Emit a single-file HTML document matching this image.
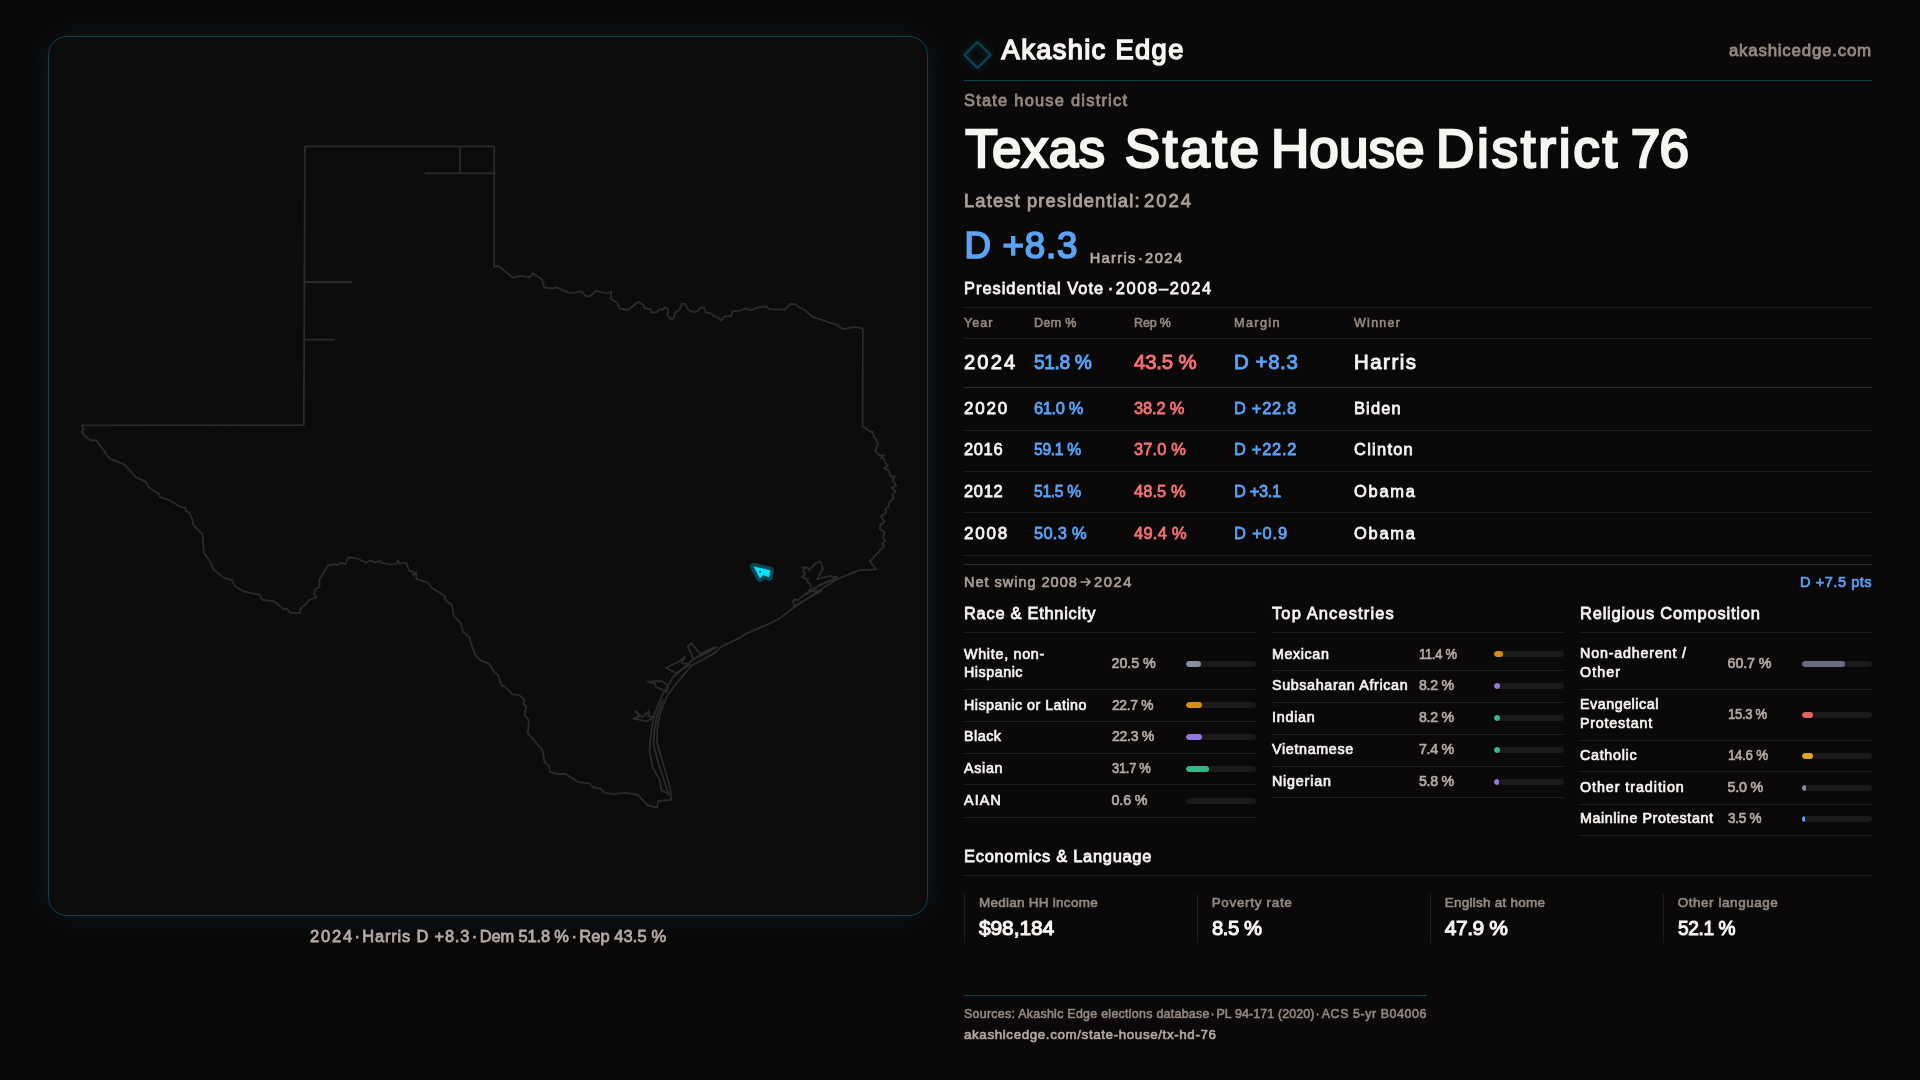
<!DOCTYPE html>
<html lang="en"><head><meta charset="utf-8"><title>Texas State House District 76</title>
<style>
html,body{margin:0;padding:0;}
body{width:1920px;height:1080px;overflow:hidden;background:#0a0809;position:relative;font-family:"Liberation Sans",sans-serif;}
.t{position:absolute;white-space:pre;line-height:1;transform-origin:0 50%;-webkit-font-smoothing:antialiased;}
.h{position:absolute;height:1px;display:block;}
.v{position:absolute;width:1px;display:block;background:#1f1d1e;}
.bar{position:absolute;display:block;width:70px;height:6px;border-radius:3px;background:#1b191a;overflow:hidden;}
.bar b{display:block;height:6px;border-radius:3px;}
#panel{position:absolute;left:48px;top:36px;width:878px;height:878px;border:1px solid #0d4251;border-radius:19px;background:#0d0b0c;box-shadow:0 0 32px rgba(20,110,135,0.17);}
#tx{position:absolute;left:0;top:0;width:1920px;height:1080px;will-change:transform;}
#map{position:absolute;left:0;top:0;width:1920px;height:1080px;}
#logo{position:absolute;left:957px;top:35px;width:40px;height:40px;}
#arr{position:absolute;left:1079.6px;top:576.7px;width:12px;height:10px;}
</style></head><body>
<div id="panel"></div>
<svg id="map" viewBox="0 0 1920 1080"><g fill="none" stroke="#2c2a2a" stroke-width="1.8" stroke-linejoin="round" stroke-linecap="round"><path d="M305.0 146.3 L494.2 146.3 L494.2 267.0 L498.5 266.0 L513.3 277.9 L519.6 275.8 L530.0 277.1 L532.9 272.9 L536.3 275.8 L542.1 279.2 L544.2 287.5 L551.7 288.3 L556.7 287.5 L570.4 293.3 L580.8 291.3 L587.1 296.7 L591.3 295.4 L595.4 290.8 L607.9 293.3 L611.3 291.7 L610.8 298.8 L617.5 302.9 L619.6 308.3 L627.9 310.0 L638.3 301.7 L643.3 305.0 L644.6 308.3 L650.4 309.2 L651.7 312.5 L657.1 312.1 L659.2 309.2 L662.1 310.0 L665.4 307.1 L668.3 310.4 L667.5 315.4 L670.4 318.8 L673.8 318.3 L675.4 312.1 L679.6 310.0 L681.7 303.8 L685.0 303.8 L688.3 310.0 L693.3 312.1 L697.5 311.3 L700.8 307.1 L704.6 308.3 L705.8 312.5 L710.8 313.3 L714.2 316.3 L717.1 316.7 L721.3 320.8 L724.6 316.3 L730.8 316.3 L732.9 311.3 L741.3 310.4 L745.4 308.3 L751.7 310.4 L756.7 307.9 L766.3 306.3 L769.2 309.2 L785.0 309.6 L790.4 303.8 L795.4 304.2 L799.6 307.9 L803.8 309.2 L812.1 316.7 L824.6 320.8 L837.1 325.0 L843.3 329.2 L853.8 327.1 L860.0 327.9 L862.9 329.2 L862.6 426.0 L871.3 432.2 L872.6 431.5 L874.0 437.1 L876.8 439.9 L876.4 441.3 L878.2 443.3 L875.4 451.0 L877.5 453.8 L880.3 455.8 L883.8 455.1 L880.6 458.6 L883.3 457.9 L885.8 463.5 L887.9 464.9 L884.4 468.3 L888.6 470.4 L891.4 477.4 L894.9 476.0 L892.8 480.8 L896.3 485.7 L891.4 487.8 L895.6 491.3 L892.1 494.7 L893.9 498.2 L889.3 502.4 L888.6 506.5 L884.7 509.7 L886.5 511.1 L885.1 513.5 L881.0 516.3 L884.4 521.8 L880.3 525.3 L879.6 528.8 L884.4 531.9 L883.1 537.8 L885.4 540.6 L881.7 544.0 L884.4 545.8 L869.9 561.4 L876.1 569.4 L859.3 570.2 L836.3 579.5 L818.6 591.1 L793.8 607.4 L779.6 618.5 L767.2 624.7 L746.7 633.3 L739.7 637.9 L721.2 646.7 L715.0 652.9 L692.1 665.2 L679.8 679.3 L667.5 695.1 L659.6 714.5 L657.3 728.5 L657.0 742.6 L663.1 763.7 L668.4 781.3 L671.0 793.6 L671.0 799.8 L658.3 800.8 L657.1 807.5 L647.9 805.4 L637.5 794.6 L625.8 792.9 L613.3 793.8 L605.0 792.9 L599.6 788.3 L593.3 787.5 L589.2 783.3 L577.9 782.1 L565.4 773.8 L557.1 774.2 L550.0 771.7 L548.8 765.4 L544.6 762.5 L542.5 750.0 L527.9 733.3 L528.8 720.0 L524.6 715.4 L526.3 706.3 L523.3 704.2 L524.6 700.0 L519.6 695.4 L512.1 694.2 L505.0 686.7 L501.7 685.4 L497.5 674.2 L494.6 672.9 L489.2 663.8 L480.8 660.4 L475.4 655.4 L470.4 641.7 L469.6 637.5 L462.9 631.7 L460.8 622.9 L453.8 615.8 L451.7 605.0 L445.4 600.0 L444.6 595.8 L432.1 588.3 L427.9 582.5 L416.3 579.2 L416.3 572.1 L413.3 575.8 L412.9 571.3 L409.2 570.8 L406.7 563.8 L402.9 562.5 L399.6 563.8 L397.9 560.4 L396.7 563.3 L392.1 564.6 L381.7 562.9 L380.0 560.8 L373.8 562.5 L371.7 560.4 L365.4 562.5 L357.1 558.3 L348.3 557.5 L345.4 564.2 L340.0 562.9 L336.3 565.4 L335.0 563.8 L327.9 565.4 L319.2 580.0 L319.6 586.7 L315.0 589.6 L314.2 594.6 L316.3 597.5 L308.8 600.0 L305.8 604.2 L301.7 607.1 L299.6 612.9 L290.4 612.9 L286.3 608.3 L284.2 609.6 L273.8 601.3 L262.9 600.0 L259.2 594.6 L244.2 591.7 L235.0 586.3 L232.1 580.4 L222.5 577.1 L212.9 568.8 L210.8 562.5 L203.8 552.9 L202.5 534.2 L193.3 525.0 L192.5 519.6 L189.2 512.5 L186.3 511.3 L185.0 507.5 L180.8 507.1 L169.2 500.0 L160.0 497.1 L158.8 493.8 L148.8 487.5 L146.3 482.1 L135.8 477.1 L124.6 464.6 L109.2 458.3 L97.5 441.7 L94.2 440.0 L91.3 440.4 L84.2 435.4 L81.7 431.3 L83.8 429.6 L81.7 425.4 L303.8 425.0 L305.0 146.3"/><path d="M460.0 146.3 L460.0 173.3"/><path d="M425.4 173.3 L494.2 173.3"/><path d="M305.0 282.0 L351.7 282.0"/><path d="M304.5 339.6 L333.8 339.6"/><path d="M715.9 647.6 L704.5 652.0 L690.4 661.7 L672.8 677.5 L662.2 695.1 L654.3 714.5 L651.7 728.5 L649.9 744.4 L649.6 751.4 L652.6 767.3 L659.6 779.6 L661.4 790.1 L669.3 794.5"/><path d="M663.0 700.0 L657.0 715.0 L654.5 730.0 L653.5 745.0 L659.0 765.0 L665.0 783.0 L668.5 795.0"/><path d="M687.7 646.7 L691.3 643.2 L695.7 648.5 L700.1 653.8 L711.0 648.5 L716.5 647.0 L706.0 653.5 L693.0 659.0 L691.3 652.9 L687.7 646.7"/><path d="M665.8 667.8 L678.9 661.7 L685.1 656.4 L681.6 662.6 L690.4 664.3 L676.3 673.1 L672.8 671.4 L665.8 667.8"/><path d="M647.3 681.6 L662.2 681.0 L668.4 686.3 L666.6 691.6 L656.1 687.2 L655.2 683.7 L647.3 681.6"/><path d="M633.2 718.9 L639.4 716.2 L635.5 710.9 L642.0 717.1 L649.0 710.9 L648.2 716.2 L654.3 717.1 L646.4 721.5 L639.4 719.7 L633.2 718.9"/><path d="M794.7 606.1 L793.1 601.7 L795.1 599.0 L797.3 600.4 L807.9 591.9 L811.5 588.4 L810.2 584.0 L807.1 581.8 L807.9 579.5 L801.7 576.9 L805.3 574.2 L803.1 571.6 L804.4 568.9 L802.2 567.1 L807.9 568.0 L809.3 570.2 L815.0 563.6 L820.3 561.4 L823.0 568.5 L817.2 579.1 L831.0 575.6 L832.7 577.3 L837.2 576.9"/><path d="M836.3 578.2 L819.5 584.9 L811.5 591.1 L821.2 590.6 L800.0 603.0 L794.7 606.1"/><path d="M806.0 594.5 L816.0 587.5 L826.0 582.5 L834.0 579.5"/></g><g stroke-linejoin="round"><path d="M753.9 566.7 L770.1 570.5 L769 577 L763.3 574.8 L760 578.3 Z" fill="#0a4351" stroke="#0a4351" stroke-width="7.6"/><path d="M753.9 566.7 L770.1 570.5 L769 577 L763.3 574.8 L760 578.3 Z" fill="#04e2fd" stroke="#04e2fd" stroke-width="0.5"/><circle cx="760.1" cy="571.7" r="0.95" fill="#0a3a46"/></g></svg>
<svg id="logo" viewBox="0 0 40 40"><defs><filter id="lg" x="-60%" y="-60%" width="220%" height="220%"><feGaussianBlur stdDeviation="3.2"/></filter></defs>
<path d="M20.5 7 L33.5 20 L20.5 33 L7.5 20 Z" fill="none" stroke="#127089" stroke-width="3.2" opacity="0.33" filter="url(#lg)"/>
<path d="M20.5 7 L33.5 20 L20.5 33 L7.5 20 Z" fill="none" stroke="#0e4656" stroke-width="2" stroke-linejoin="round"/></svg>
<svg id="arr" viewBox="0 0 12 10"><path d="M1 5 H10.2 M6.6 1.6 L10.2 5 L6.6 8.4" fill="none" stroke="#aa9e97" stroke-width="1.55" stroke-linecap="round" stroke-linejoin="round"/></svg>
<div id="tx">
<span class="t" id="t0" style="left:1001.62px;top:35.91px;font-size:27.26px;color:#f7f5f2;-webkit-text-stroke:1.53px #f7f5f2;letter-spacing:1.368px;">Akashic Edge</span>
<span class="t" id="t1" style="left:1728.91px;top:43.48px;font-size:16.92px;color:#958982;-webkit-text-stroke:0.8px #958982;letter-spacing:0.766px;">akashicedge.com</span>
<span class="t" id="t2" style="left:964.00px;top:92.21px;font-size:16.45px;color:#958982;-webkit-text-stroke:0.77px #958982;letter-spacing:1.221px;">State house district</span>
<span class="t" id="t3" style="left:965.20px;top:121.88px;font-size:53.11px;color:#f7f5f2;-webkit-text-stroke:2.34px #f7f5f2;letter-spacing:0.289px;">Texas</span>
<span class="t" id="t4" style="left:1124.81px;top:121.88px;font-size:53.11px;color:#f7f5f2;-webkit-text-stroke:2.34px #f7f5f2;letter-spacing:2.580px;">State</span>
<span class="t" id="t5" style="left:1270.94px;top:121.88px;font-size:53.11px;color:#f7f5f2;-webkit-text-stroke:2.34px #f7f5f2;letter-spacing:0.027px;">House</span>
<span class="t" id="t6" style="left:1435.94px;top:121.88px;font-size:53.11px;color:#f7f5f2;-webkit-text-stroke:2.34px #f7f5f2;letter-spacing:2.719px;">District</span>
<span class="t" id="t7" style="left:1630.82px;top:121.88px;font-size:53.11px;color:#f7f5f2;-webkit-text-stroke:2.34px #f7f5f2;letter-spacing:-0.752px;">76</span>
<span class="t" id="t8" style="left:964.00px;top:191.50px;font-size:18.33px;color:#aa9e97;-webkit-text-stroke:0.86px #aa9e97;letter-spacing:1.138px;">Latest presidential:</span>
<span class="t" id="t9" style="left:1144.20px;top:191.50px;font-size:18.33px;color:#aa9e97;-webkit-text-stroke:0.86px #aa9e97;letter-spacing:1.950px;transform:scaleX(1.0110);">2024</span>
<span class="t" id="t10" style="left:964.43px;top:227.86px;font-size:36.66px;color:#5aa3f5;-webkit-text-stroke:1.72px #5aa3f5;letter-spacing:0.764px;">D +8.3</span>
<span class="t" id="t11" style="left:1089.77px;top:251.16px;font-size:14.57px;color:#b5a9a3;-webkit-text-stroke:0.68px #b5a9a3;letter-spacing:1.328px;">Harris</span>
<span class="t" id="t12" style="left:1137.97px;top:251.16px;font-size:14.57px;color:#b5a9a3;-webkit-text-stroke:0.68px #b5a9a3;">·</span>
<span class="t" id="t13" style="left:1144.80px;top:251.16px;font-size:14.57px;color:#b5a9a3;-webkit-text-stroke:0.68px #b5a9a3;letter-spacing:1.550px;transform:scaleX(1.0032);">2024</span>
<span class="t" id="t14" style="left:964.00px;top:279.67px;font-size:16.45px;color:#f7f5f2;-webkit-text-stroke:0.77px #f7f5f2;letter-spacing:0.982px;">Presidential Vote</span>
<span class="t" id="t15" style="left:1107.65px;top:279.67px;font-size:16.45px;color:#f7f5f2;-webkit-text-stroke:0.77px #f7f5f2;">·</span>
<span class="t" id="t16" style="left:1115.77px;top:279.67px;font-size:16.45px;color:#f7f5f2;-webkit-text-stroke:0.77px #f7f5f2;letter-spacing:1.638px;">2008–2024</span>
<span class="t" id="t17" style="left:964.00px;top:316.84px;font-size:12.5px;color:#958982;-webkit-text-stroke:0.59px #958982;letter-spacing:1.026px;">Year</span>
<span class="t" id="t18" style="left:1034.00px;top:316.84px;font-size:12.5px;color:#958982;-webkit-text-stroke:0.59px #958982;letter-spacing:0.370px;">Dem %</span>
<span class="t" id="t19" style="left:1134.00px;top:316.84px;font-size:12.5px;color:#958982;-webkit-text-stroke:0.59px #958982;letter-spacing:-0.140px;">Rep %</span>
<span class="t" id="t20" style="left:1234.00px;top:316.84px;font-size:12.5px;color:#958982;-webkit-text-stroke:0.59px #958982;letter-spacing:1.330px;transform:scaleX(1.0155);">Margin</span>
<span class="t" id="t21" style="left:1354.00px;top:316.84px;font-size:12.5px;color:#958982;-webkit-text-stroke:0.59px #958982;letter-spacing:1.330px;transform:scaleX(0.9943);">Winner</span>
<span class="t" id="t22" style="left:964.00px;top:352.44px;font-size:20.4px;color:#f7f5f2;-webkit-text-stroke:0.96px #f7f5f2;letter-spacing:2.170px;transform:scaleX(0.9861);">2024</span>
<span class="t" id="t23" style="left:1034.00px;top:352.44px;font-size:20.4px;color:#5aa3f5;-webkit-text-stroke:0.96px #5aa3f5;letter-spacing:-0.434px;transform:scaleX(0.9416);">51.8 %</span>
<span class="t" id="t24" style="left:1134.00px;top:352.44px;font-size:20.4px;color:#f47275;-webkit-text-stroke:0.96px #f47275;letter-spacing:-0.190px;">43.5 %</span>
<span class="t" id="t25" style="left:1234.00px;top:352.44px;font-size:20.4px;color:#5aa3f5;-webkit-text-stroke:0.96px #5aa3f5;letter-spacing:0.617px;">D +8.3</span>
<span class="t" id="t26" style="left:1354.00px;top:352.44px;font-size:20.4px;color:#f7f5f2;-webkit-text-stroke:0.96px #f7f5f2;letter-spacing:1.524px;">Harris</span>
<span class="t" id="t27" style="left:964.00px;top:399.73px;font-size:16.45px;color:#f7f5f2;-webkit-text-stroke:0.77px #f7f5f2;letter-spacing:1.750px;transform:scaleX(1.0343);">2020</span>
<span class="t" id="t28" style="left:1034.00px;top:399.73px;font-size:16.45px;color:#5aa3f5;-webkit-text-stroke:0.77px #5aa3f5;letter-spacing:-0.348px;">61.0 %</span>
<span class="t" id="t29" style="left:1134.00px;top:399.73px;font-size:16.45px;color:#f47275;-webkit-text-stroke:0.77px #f47275;letter-spacing:-0.147px;">38.2 %</span>
<span class="t" id="t30" style="left:1234.00px;top:399.73px;font-size:16.45px;color:#5aa3f5;-webkit-text-stroke:0.77px #5aa3f5;letter-spacing:0.706px;">D +22.8</span>
<span class="t" id="t31" style="left:1354.00px;top:399.73px;font-size:16.45px;color:#f7f5f2;-webkit-text-stroke:0.77px #f7f5f2;letter-spacing:1.132px;">Biden</span>
<span class="t" id="t32" style="left:964.00px;top:441.27px;font-size:16.45px;color:#f7f5f2;-webkit-text-stroke:0.77px #f7f5f2;letter-spacing:0.660px;">2016</span>
<span class="t" id="t33" style="left:1034.00px;top:441.27px;font-size:16.45px;color:#5aa3f5;-webkit-text-stroke:0.77px #5aa3f5;letter-spacing:-0.350px;transform:scaleX(0.9552);">59.1 %</span>
<span class="t" id="t34" style="left:1134.00px;top:441.27px;font-size:16.45px;color:#f47275;-webkit-text-stroke:0.77px #f47275;letter-spacing:0.161px;">37.0 %</span>
<span class="t" id="t35" style="left:1234.00px;top:441.27px;font-size:16.45px;color:#5aa3f5;-webkit-text-stroke:0.77px #5aa3f5;letter-spacing:0.715px;">D +22.2</span>
<span class="t" id="t36" style="left:1354.00px;top:441.27px;font-size:16.45px;color:#f7f5f2;-webkit-text-stroke:0.77px #f7f5f2;letter-spacing:1.265px;">Clinton</span>
<span class="t" id="t37" style="left:964.00px;top:483.37px;font-size:16.45px;color:#f7f5f2;-webkit-text-stroke:0.77px #f7f5f2;letter-spacing:0.674px;">2012</span>
<span class="t" id="t38" style="left:1034.00px;top:483.37px;font-size:16.45px;color:#5aa3f5;-webkit-text-stroke:0.77px #5aa3f5;letter-spacing:-0.350px;transform:scaleX(0.9552);">51.5 %</span>
<span class="t" id="t39" style="left:1134.00px;top:483.37px;font-size:16.45px;color:#f47275;-webkit-text-stroke:0.77px #f47275;letter-spacing:0.065px;">48.5 %</span>
<span class="t" id="t40" style="left:1234.00px;top:483.37px;font-size:16.45px;color:#5aa3f5;-webkit-text-stroke:0.77px #5aa3f5;letter-spacing:-0.355px;">D +3.1</span>
<span class="t" id="t41" style="left:1354.00px;top:483.37px;font-size:16.45px;color:#f7f5f2;-webkit-text-stroke:0.77px #f7f5f2;letter-spacing:1.750px;">Obama</span>
<span class="t" id="t42" style="left:964.00px;top:525.37px;font-size:16.45px;color:#f7f5f2;-webkit-text-stroke:0.77px #f7f5f2;letter-spacing:1.750px;transform:scaleX(1.0358);">2008</span>
<span class="t" id="t43" style="left:1034.00px;top:525.37px;font-size:16.45px;color:#5aa3f5;-webkit-text-stroke:0.77px #5aa3f5;letter-spacing:0.265px;">50.3 %</span>
<span class="t" id="t44" style="left:1134.00px;top:525.37px;font-size:16.45px;color:#f47275;-webkit-text-stroke:0.77px #f47275;letter-spacing:0.265px;">49.4 %</span>
<span class="t" id="t45" style="left:1234.00px;top:525.37px;font-size:16.45px;color:#5aa3f5;-webkit-text-stroke:0.77px #5aa3f5;letter-spacing:0.849px;">D +0.9</span>
<span class="t" id="t46" style="left:1354.00px;top:525.37px;font-size:16.45px;color:#f7f5f2;-webkit-text-stroke:0.77px #f7f5f2;letter-spacing:1.750px;">Obama</span>
<span class="t" id="t47" style="left:964.00px;top:575.16px;font-size:14.57px;color:#aa9e97;-webkit-text-stroke:0.68px #aa9e97;letter-spacing:0.957px;">Net swing 2008</span>
<span class="t" id="t48" style="left:1094.30px;top:575.16px;font-size:14.57px;color:#aa9e97;-webkit-text-stroke:0.68px #aa9e97;letter-spacing:1.550px;transform:scaleX(1.0078);">2024</span>
<span class="t" id="t49" style="left:1800.00px;top:575.16px;font-size:14.57px;color:#5aa3f5;-webkit-text-stroke:0.68px #5aa3f5;letter-spacing:0.540px;">D +7.5 pts</span>
<span class="t" id="t50" style="left:964.00px;top:605.08px;font-size:16.45px;color:#f7f5f2;-webkit-text-stroke:0.77px #f7f5f2;letter-spacing:0.717px;">Race &amp; Ethnicity</span>
<span class="t" id="t51" style="left:1272.00px;top:605.08px;font-size:16.45px;color:#f7f5f2;-webkit-text-stroke:0.77px #f7f5f2;letter-spacing:1.136px;">Top Ancestries</span>
<span class="t" id="t52" style="left:1580.00px;top:605.08px;font-size:16.45px;color:#f7f5f2;-webkit-text-stroke:0.77px #f7f5f2;letter-spacing:0.816px;">Religious Composition</span>
<span class="t" id="t53" style="left:964.00px;top:646.90px;font-size:14.29px;color:#f7f5f2;-webkit-text-stroke:0.67px #f7f5f2;letter-spacing:0.724px;">White, non-</span>
<span class="t" id="t54" style="left:964.00px;top:664.85px;font-size:14.29px;color:#f7f5f2;-webkit-text-stroke:0.67px #f7f5f2;letter-spacing:0.535px;">Hispanic</span>
<span class="t" id="t55" style="left:1111.60px;top:655.80px;font-size:14.29px;color:#b5a9a3;-webkit-text-stroke:0.67px #b5a9a3;letter-spacing:-0.062px;">20.5 %</span>
<span class="t" id="t56" style="left:964.00px;top:697.70px;font-size:14.29px;color:#f7f5f2;-webkit-text-stroke:0.67px #f7f5f2;letter-spacing:0.480px;">Hispanic or Latino</span>
<span class="t" id="t57" style="left:1111.60px;top:697.70px;font-size:14.29px;color:#b5a9a3;-webkit-text-stroke:0.67px #b5a9a3;letter-spacing:-0.304px;transform:scaleX(0.9652);">22.7 %</span>
<span class="t" id="t58" style="left:964.00px;top:728.78px;font-size:14.29px;color:#f7f5f2;-webkit-text-stroke:0.67px #f7f5f2;letter-spacing:0.513px;">Black</span>
<span class="t" id="t59" style="left:1111.60px;top:728.78px;font-size:14.29px;color:#b5a9a3;-webkit-text-stroke:0.67px #b5a9a3;letter-spacing:-0.304px;transform:scaleX(0.9863);">22.3 %</span>
<span class="t" id="t60" style="left:964.00px;top:761.30px;font-size:14.29px;color:#f7f5f2;-webkit-text-stroke:0.67px #f7f5f2;letter-spacing:0.706px;">Asian</span>
<span class="t" id="t61" style="left:1111.60px;top:761.30px;font-size:14.29px;color:#b5a9a3;-webkit-text-stroke:0.67px #b5a9a3;letter-spacing:-0.304px;transform:scaleX(0.9042);">31.7 %</span>
<span class="t" id="t62" style="left:964.00px;top:793.10px;font-size:14.29px;color:#f7f5f2;-webkit-text-stroke:0.67px #f7f5f2;letter-spacing:1.139px;">AIAN</span>
<span class="t" id="t63" style="left:1111.60px;top:793.10px;font-size:14.29px;color:#b5a9a3;-webkit-text-stroke:0.67px #b5a9a3;letter-spacing:-0.168px;">0.6 %</span>
<span class="t" id="t64" style="left:1272.00px;top:647.34px;font-size:14.29px;color:#f7f5f2;-webkit-text-stroke:0.67px #f7f5f2;letter-spacing:0.612px;">Mexican</span>
<span class="t" id="t65" style="left:1419.40px;top:647.34px;font-size:14.29px;color:#b5a9a3;-webkit-text-stroke:0.67px #b5a9a3;letter-spacing:-0.304px;transform:scaleX(0.9039);">11.4 %</span>
<span class="t" id="t66" style="left:1272.00px;top:677.84px;font-size:14.29px;color:#f7f5f2;-webkit-text-stroke:0.67px #f7f5f2;letter-spacing:0.643px;">Subsaharan African</span>
<span class="t" id="t67" style="left:1419.40px;top:677.84px;font-size:14.29px;color:#b5a9a3;-webkit-text-stroke:0.67px #b5a9a3;letter-spacing:-0.304px;transform:scaleX(0.9906);">8.2 %</span>
<span class="t" id="t68" style="left:1272.00px;top:709.92px;font-size:14.29px;color:#f7f5f2;-webkit-text-stroke:0.67px #f7f5f2;letter-spacing:0.768px;">Indian</span>
<span class="t" id="t69" style="left:1419.40px;top:709.92px;font-size:14.29px;color:#b5a9a3;-webkit-text-stroke:0.67px #b5a9a3;letter-spacing:-0.304px;transform:scaleX(0.9906);">8.2 %</span>
<span class="t" id="t70" style="left:1272.00px;top:742.40px;font-size:14.29px;color:#f7f5f2;-webkit-text-stroke:0.67px #f7f5f2;letter-spacing:0.672px;">Vietnamese</span>
<span class="t" id="t71" style="left:1419.40px;top:742.40px;font-size:14.29px;color:#b5a9a3;-webkit-text-stroke:0.67px #b5a9a3;letter-spacing:-0.304px;transform:scaleX(0.9915);">7.4 %</span>
<span class="t" id="t72" style="left:1272.00px;top:774.30px;font-size:14.29px;color:#f7f5f2;-webkit-text-stroke:0.67px #f7f5f2;letter-spacing:0.811px;">Nigerian</span>
<span class="t" id="t73" style="left:1419.40px;top:774.30px;font-size:14.29px;color:#b5a9a3;-webkit-text-stroke:0.67px #b5a9a3;letter-spacing:-0.304px;transform:scaleX(0.9907);">5.8 %</span>
<span class="t" id="t74" style="left:1580.00px;top:646.03px;font-size:14.29px;color:#f7f5f2;-webkit-text-stroke:0.67px #f7f5f2;letter-spacing:0.826px;">Non-adherent /</span>
<span class="t" id="t75" style="left:1580.00px;top:665.10px;font-size:14.29px;color:#f7f5f2;-webkit-text-stroke:0.67px #f7f5f2;letter-spacing:1.055px;">Other</span>
<span class="t" id="t76" style="left:1727.60px;top:655.80px;font-size:14.29px;color:#b5a9a3;-webkit-text-stroke:0.67px #b5a9a3;letter-spacing:-0.142px;">60.7 %</span>
<span class="t" id="t77" style="left:1580.00px;top:696.92px;font-size:14.29px;color:#f7f5f2;-webkit-text-stroke:0.67px #f7f5f2;letter-spacing:0.531px;">Evangelical</span>
<span class="t" id="t78" style="left:1580.00px;top:715.94px;font-size:14.29px;color:#f7f5f2;-webkit-text-stroke:0.67px #f7f5f2;letter-spacing:0.781px;">Protestant</span>
<span class="t" id="t79" style="left:1727.60px;top:707.40px;font-size:14.29px;color:#b5a9a3;-webkit-text-stroke:0.67px #b5a9a3;letter-spacing:-0.304px;transform:scaleX(0.9123);">15.3 %</span>
<span class="t" id="t80" style="left:1580.00px;top:748.40px;font-size:14.29px;color:#f7f5f2;-webkit-text-stroke:0.67px #f7f5f2;letter-spacing:0.712px;">Catholic</span>
<span class="t" id="t81" style="left:1727.60px;top:748.40px;font-size:14.29px;color:#b5a9a3;-webkit-text-stroke:0.67px #b5a9a3;letter-spacing:-0.304px;transform:scaleX(0.9305);">14.6 %</span>
<span class="t" id="t82" style="left:1580.00px;top:780.40px;font-size:14.29px;color:#f7f5f2;-webkit-text-stroke:0.67px #f7f5f2;letter-spacing:0.947px;">Other tradition</span>
<span class="t" id="t83" style="left:1727.60px;top:780.40px;font-size:14.29px;color:#b5a9a3;-webkit-text-stroke:0.67px #b5a9a3;letter-spacing:-0.218px;">5.0 %</span>
<span class="t" id="t84" style="left:1580.00px;top:811.03px;font-size:14.29px;color:#f7f5f2;-webkit-text-stroke:0.67px #f7f5f2;letter-spacing:0.593px;">Mainline Protestant</span>
<span class="t" id="t85" style="left:1727.60px;top:811.03px;font-size:14.29px;color:#b5a9a3;-webkit-text-stroke:0.67px #b5a9a3;letter-spacing:-0.304px;transform:scaleX(0.9471);">3.5 %</span>
<span class="t" id="t86" style="left:964.00px;top:847.72px;font-size:16.45px;color:#f7f5f2;-webkit-text-stroke:0.77px #f7f5f2;letter-spacing:0.724px;">Economics &amp; Language</span>
<span class="t" id="t87" style="left:978.90px;top:895.52px;font-size:13.44px;color:#958982;-webkit-text-stroke:0.63px #958982;letter-spacing:0.297px;">Median HH income</span>
<span class="t" id="t88" style="left:978.90px;top:917.75px;font-size:20.96px;color:#f7f5f2;-webkit-text-stroke:1.09px #f7f5f2;letter-spacing:-0.064px;">$98,184</span>
<span class="t" id="t89" style="left:1211.70px;top:895.52px;font-size:13.44px;color:#958982;-webkit-text-stroke:0.63px #958982;letter-spacing:0.701px;">Poverty rate</span>
<span class="t" id="t90" style="left:1211.70px;top:917.75px;font-size:20.96px;color:#f7f5f2;-webkit-text-stroke:1.09px #f7f5f2;letter-spacing:-0.446px;transform:scaleX(0.9676);">8.5 %</span>
<span class="t" id="t91" style="left:1444.70px;top:895.52px;font-size:13.44px;color:#958982;-webkit-text-stroke:0.63px #958982;letter-spacing:0.283px;">English at home</span>
<span class="t" id="t92" style="left:1444.70px;top:917.75px;font-size:20.96px;color:#f7f5f2;-webkit-text-stroke:1.09px #f7f5f2;letter-spacing:-0.420px;">47.9 %</span>
<span class="t" id="t93" style="left:1677.70px;top:895.52px;font-size:13.44px;color:#958982;-webkit-text-stroke:0.63px #958982;letter-spacing:0.575px;">Other language</span>
<span class="t" id="t94" style="left:1677.70px;top:917.75px;font-size:20.96px;color:#f7f5f2;-webkit-text-stroke:1.09px #f7f5f2;letter-spacing:-0.446px;transform:scaleX(0.9135);">52.1 %</span>
<span class="t" id="t95" style="left:964.00px;top:1008.15px;font-size:12.41px;color:#958982;-webkit-text-stroke:0.58px #958982;letter-spacing:0.280px;">Sources: Akashic Edge elections database</span>
<span class="t" id="t96" style="left:1210.53px;top:1008.15px;font-size:12.41px;color:#958982;-webkit-text-stroke:0.58px #958982;">·</span>
<span class="t" id="t97" style="left:1216.47px;top:1008.15px;font-size:12.41px;color:#958982;-webkit-text-stroke:0.58px #958982;letter-spacing:0.117px;">PL 94-171 (2020)</span>
<span class="t" id="t98" style="left:1315.53px;top:1008.15px;font-size:12.41px;color:#958982;-webkit-text-stroke:0.58px #958982;">·</span>
<span class="t" id="t99" style="left:1321.75px;top:1008.15px;font-size:12.41px;color:#958982;-webkit-text-stroke:0.58px #958982;letter-spacing:0.577px;">ACS 5-yr B04006</span>
<span class="t" id="t100" style="left:964.00px;top:1028.11px;font-size:13.35px;color:#b5a9a3;-webkit-text-stroke:0.63px #b5a9a3;letter-spacing:0.628px;">akashicedge.com/state-house/tx-hd-76</span>
<span class="t" id="t101" style="left:310.20px;top:927.78px;font-size:16.45px;color:#b5a9a3;-webkit-text-stroke:0.77px #b5a9a3;letter-spacing:1.750px;transform:scaleX(1.0083);">2024</span>
<span class="t" id="t102" style="left:354.45px;top:927.78px;font-size:16.45px;color:#b5a9a3;-webkit-text-stroke:0.77px #b5a9a3;">·</span>
<span class="t" id="t103" style="left:362.37px;top:927.78px;font-size:16.45px;color:#b5a9a3;-webkit-text-stroke:0.77px #b5a9a3;letter-spacing:0.812px;">Harris D +8.3</span>
<span class="t" id="t104" style="left:471.75px;top:927.78px;font-size:16.45px;color:#b5a9a3;-webkit-text-stroke:0.77px #b5a9a3;">·</span>
<span class="t" id="t105" style="left:479.65px;top:927.78px;font-size:16.45px;color:#b5a9a3;-webkit-text-stroke:0.77px #b5a9a3;letter-spacing:-0.126px;">Dem 51.8 %</span>
<span class="t" id="t106" style="left:571.45px;top:927.78px;font-size:16.45px;color:#b5a9a3;-webkit-text-stroke:0.77px #b5a9a3;">·</span>
<span class="t" id="t107" style="left:579.17px;top:927.78px;font-size:16.45px;color:#b5a9a3;-webkit-text-stroke:0.77px #b5a9a3;letter-spacing:0.108px;">Rep 43.5 %</span>
<i class="h" style="left:964px;top:80px;width:908px;background:#0d4453"></i>
<i class="h" style="left:964px;top:307px;width:908px;background:#1f1d1e"></i>
<i class="h" style="left:964px;top:338px;width:908px;background:#1f1d1e"></i>
<i class="h" style="left:964px;top:387px;width:908px;background:#2b292a"></i>
<i class="h" style="left:964px;top:430px;width:908px;background:#1f1d1e"></i>
<i class="h" style="left:964px;top:471px;width:908px;background:#1f1d1e"></i>
<i class="h" style="left:964px;top:512px;width:908px;background:#1f1d1e"></i>
<i class="h" style="left:964px;top:555px;width:908px;background:#1f1d1e"></i>
<i class="h" style="left:964px;top:564px;width:908px;background:#2b292a"></i>
<i class="h" style="left:964px;top:875px;width:908px;background:#1f1d1e"></i>
<i class="h" style="left:964px;top:995px;width:463px;background:#0d4453"></i>
<i class="h" style="left:964px;top:632px;width:292px;background:#1f1d1e"></i>
<i class="h" style="left:964px;top:689px;width:292px;background:#1f1d1e"></i>
<i class="h" style="left:964px;top:721px;width:292px;background:#1f1d1e"></i>
<i class="h" style="left:964px;top:753px;width:292px;background:#1f1d1e"></i>
<i class="h" style="left:964px;top:784px;width:292px;background:#1f1d1e"></i>
<i class="h" style="left:964px;top:817px;width:292px;background:#1f1d1e"></i>
<i class="h" style="left:1272px;top:632px;width:292px;background:#1f1d1e"></i>
<i class="h" style="left:1272px;top:670px;width:292px;background:#1f1d1e"></i>
<i class="h" style="left:1272px;top:702px;width:292px;background:#1f1d1e"></i>
<i class="h" style="left:1272px;top:734px;width:292px;background:#1f1d1e"></i>
<i class="h" style="left:1272px;top:766px;width:292px;background:#1f1d1e"></i>
<i class="h" style="left:1272px;top:797px;width:292px;background:#1f1d1e"></i>
<i class="h" style="left:1580px;top:632px;width:292px;background:#1f1d1e"></i>
<i class="h" style="left:1580px;top:689px;width:292px;background:#1f1d1e"></i>
<i class="h" style="left:1580px;top:740px;width:292px;background:#1f1d1e"></i>
<i class="h" style="left:1580px;top:771px;width:292px;background:#1f1d1e"></i>
<i class="h" style="left:1580px;top:804px;width:292px;background:#1f1d1e"></i>
<i class="h" style="left:1580px;top:835px;width:292px;background:#1f1d1e"></i>
<i class="v" style="left:964px;top:894px;height:49px"></i>
<i class="v" style="left:1197px;top:894px;height:49px"></i>
<i class="v" style="left:1430px;top:894px;height:49px"></i>
<i class="v" style="left:1663px;top:894px;height:49px"></i>
<i class="bar" style="left:1186px;top:661px"><b style="width:14.95px;background:#8791a1"></b></i>
<i class="bar" style="left:1186px;top:702px"><b style="width:16.49px;background:#d48d11"></b></i>
<i class="bar" style="left:1186px;top:734px"><b style="width:16.21px;background:#9376de"></b></i>
<i class="bar" style="left:1186px;top:766px"><b style="width:22.79px;background:#31b888"></b></i>
<i class="bar" style="left:1186px;top:798px"></i>
<i class="bar" style="left:1494px;top:651px"><b style="width:8.58px;background:#d48d11"></b></i>
<i class="bar" style="left:1494px;top:683px"><b style="width:6.34px;background:#9376de"></b></i>
<i class="bar" style="left:1494px;top:715px"><b style="width:6.34px;background:#31b888"></b></i>
<i class="bar" style="left:1494px;top:747px"><b style="width:5.78px;background:#31b888"></b></i>
<i class="bar" style="left:1494px;top:779px"><b style="width:4.66px;background:#9376de"></b></i>
<i class="bar" style="left:1802px;top:661px"><b style="width:43.09px;background:#666c7b"></b></i>
<i class="bar" style="left:1802px;top:712px"><b style="width:11.31px;background:#dc6569"></b></i>
<i class="bar" style="left:1802px;top:753px"><b style="width:10.82px;background:#dca522"></b></i>
<i class="bar" style="left:1802px;top:785px"><b style="width:4.10px;background:#8791a1"></b></i>
<i class="bar" style="left:1802px;top:816px"><b style="width:3.05px;background:#5aa3f5"></b></i>
</div>
</body></html>
